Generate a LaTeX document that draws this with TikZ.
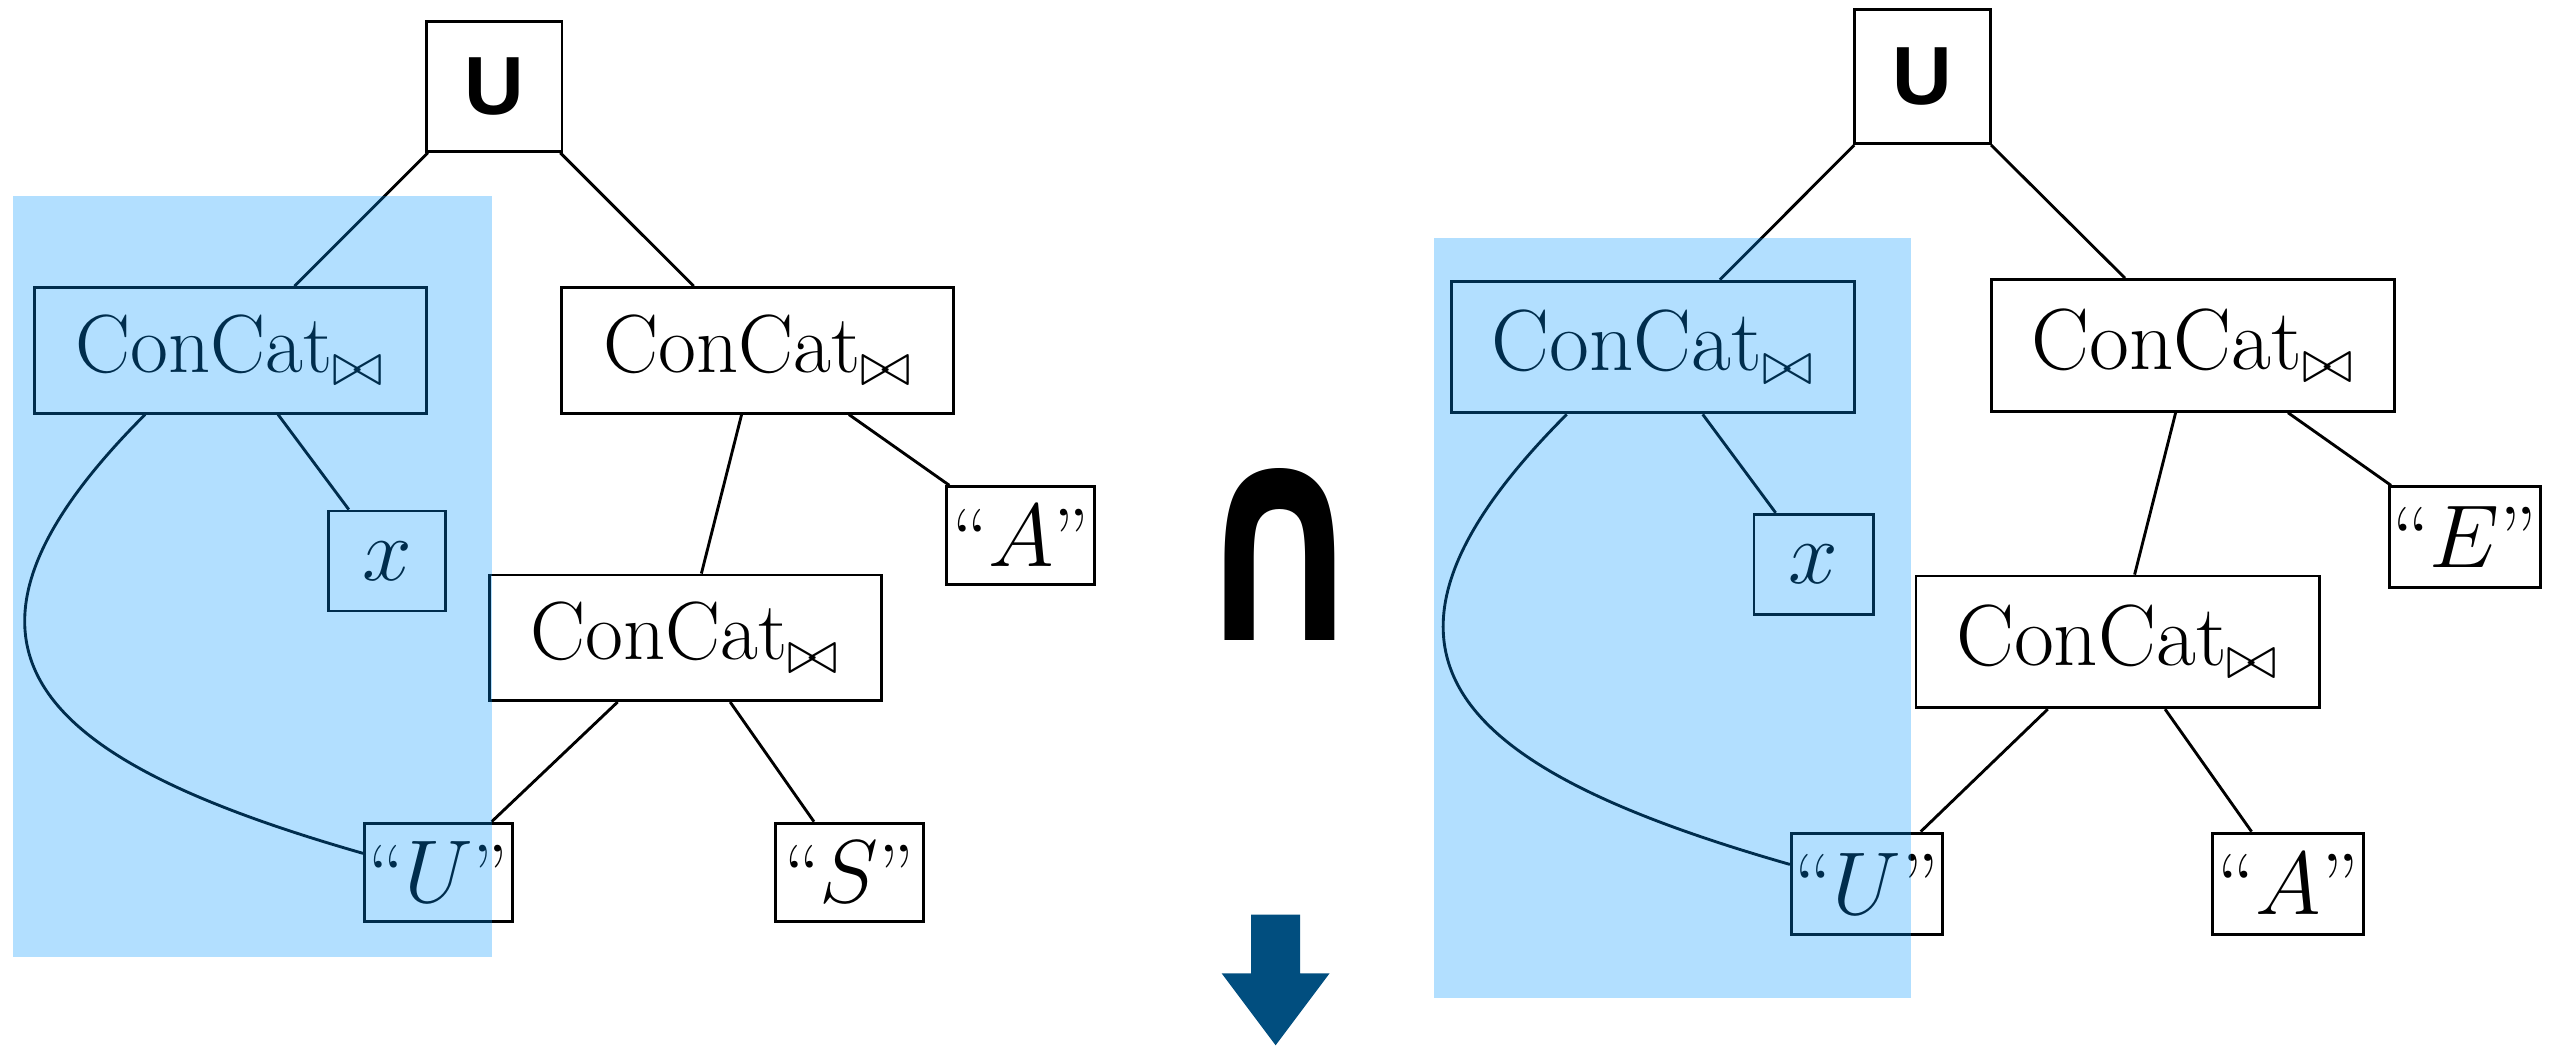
\documentclass[tikz,border=0pt]{standalone}
\usepackage{amsmath}
\usepackage{fontspec}
\usepackage{tikz}
\usetikzlibrary{positioning}
\newfontfamily\rootfont{Liberation Sans}
\newfontfamily\capfont{DejaVu Sans}
\definecolor{hilite}{RGB}{0,150,255}
\definecolor{arrowblue}{RGB}{1,78,127}

\begin{document}
\begin{tikzpicture}[
  box/.style={rectangle, draw, fill=white, line width=0.8pt, font=\fontsize{23}{28}\selectfont, inner sep=0pt},
  boxR/.style={box, font=\fontsize{24.2}{29}\selectfont},
  cat/.style={box, minimum width=3.84cm, minimum height=1.23cm},
  catR/.style={boxR, minimum width=3.95cm, minimum height=1.29cm},
  leaf/.style={box, minimum width=1.45cm, minimum height=0.96cm},
  leafR/.style={boxR, minimum width=1.48cm, minimum height=0.99cm},
  var/.style={box, minimum width=1.15cm, minimum height=0.98cm},
  varR/.style={boxR, minimum width=1.17cm, minimum height=0.98cm},
  root/.style={box, minimum width=1.33cm, minimum height=1.27cm, font=\rootfont\bfseries\fontsize{23}{27}\selectfont},
  edge/.style={line width=0.8pt},
  hl/.style={fill=hilite, fill opacity=0.3}
]
  \useasboundingbox (0,0) rectangle (25.088,10.24);

  \node[root] (rootL) at (4.84,9.392) {U};
  \node[cat] (catLa) at (2.256,6.808) {ConCat$_{\bowtie}$};
  \node[cat] (catLb) at (7.424,6.808) {ConCat$_{\bowtie}$};
  \node[var] (xL) at (3.792,4.744) {$x$};
  \node[leaf] (aL) at (10.0,4.992) {“$A$”};
  \node[cat] (catLc) at (6.712,3.992) {ConCat$_{\bowtie}$};
  \node[leaf] (uL) at (4.296,1.696) {“$U$”};
  \node[leaf] (sL) at (8.32,1.696) {“$S$”};

  \draw[edge] (rootL) -- (catLa);
  \draw[edge] (rootL) -- (catLb);
  \draw[edge] (catLa) -- (xL);
  \draw[edge] (catLa.217) to[out=225, in=164, looseness=1.75] (uL.166);
  \draw[edge] (catLb) -- (catLc);
  \draw[edge] (catLb) -- (aL);
  \draw[edge] (catLc) -- (uL);
  \draw[edge] (catLc) -- (sL);

  \node[root, minimum height=1.31cm] (rootR) at (18.832,9.488) {U};
  \node[catR] (catRa) at (16.192,6.84) {ConCat$_{\bowtie}$};
  \node[catR] (catRb) at (21.48,6.856) {ConCat$_{\bowtie}$};
  \node[varR] (xR) at (17.768,4.712) {$x$};
  \node[leafR] (eR) at (24.144,4.976) {“$E$”};
  \node[catR] (catRc) at (20.744,3.952) {ConCat$_{\bowtie}$};
  \node[leafR] (uR) at (18.288,1.584) {“$U$”};
  \node[leafR] (aR) at (22.416,1.584) {“$A$”};

  \draw[edge] (rootR) -- (catRa);
  \draw[edge] (rootR) -- (catRb);
  \draw[edge] (catRa) -- (xR);
  \draw[edge] (catRa.218) to[out=225, in=164, looseness=1.75] (uR.166);
  \draw[edge] (catRb) -- (catRc);
  \draw[edge] (catRb) -- (eR);
  \draw[edge] (catRc) -- (uR);
  \draw[edge] (catRc) -- (aR);

  \fill[hl] (0.128,0.864) rectangle (4.816,8.32);
  \fill[hl] (14.048,0.464) rectangle (18.72,7.904);

  \node[font=\capfont\bfseries\fontsize{60}{60}\selectfont, inner sep=0pt] (cap) at (12.536,4.81) {\scalebox{1}[1.38]{∩}};
  \fill[arrowblue] (12.256,1.28) -- (12.736,1.28) -- (12.736,0.704) -- (13.024,0.704)
    -- (12.496,0) -- (11.968,0.704) -- (12.256,0.704) -- cycle;
\end{tikzpicture}
\end{document}
